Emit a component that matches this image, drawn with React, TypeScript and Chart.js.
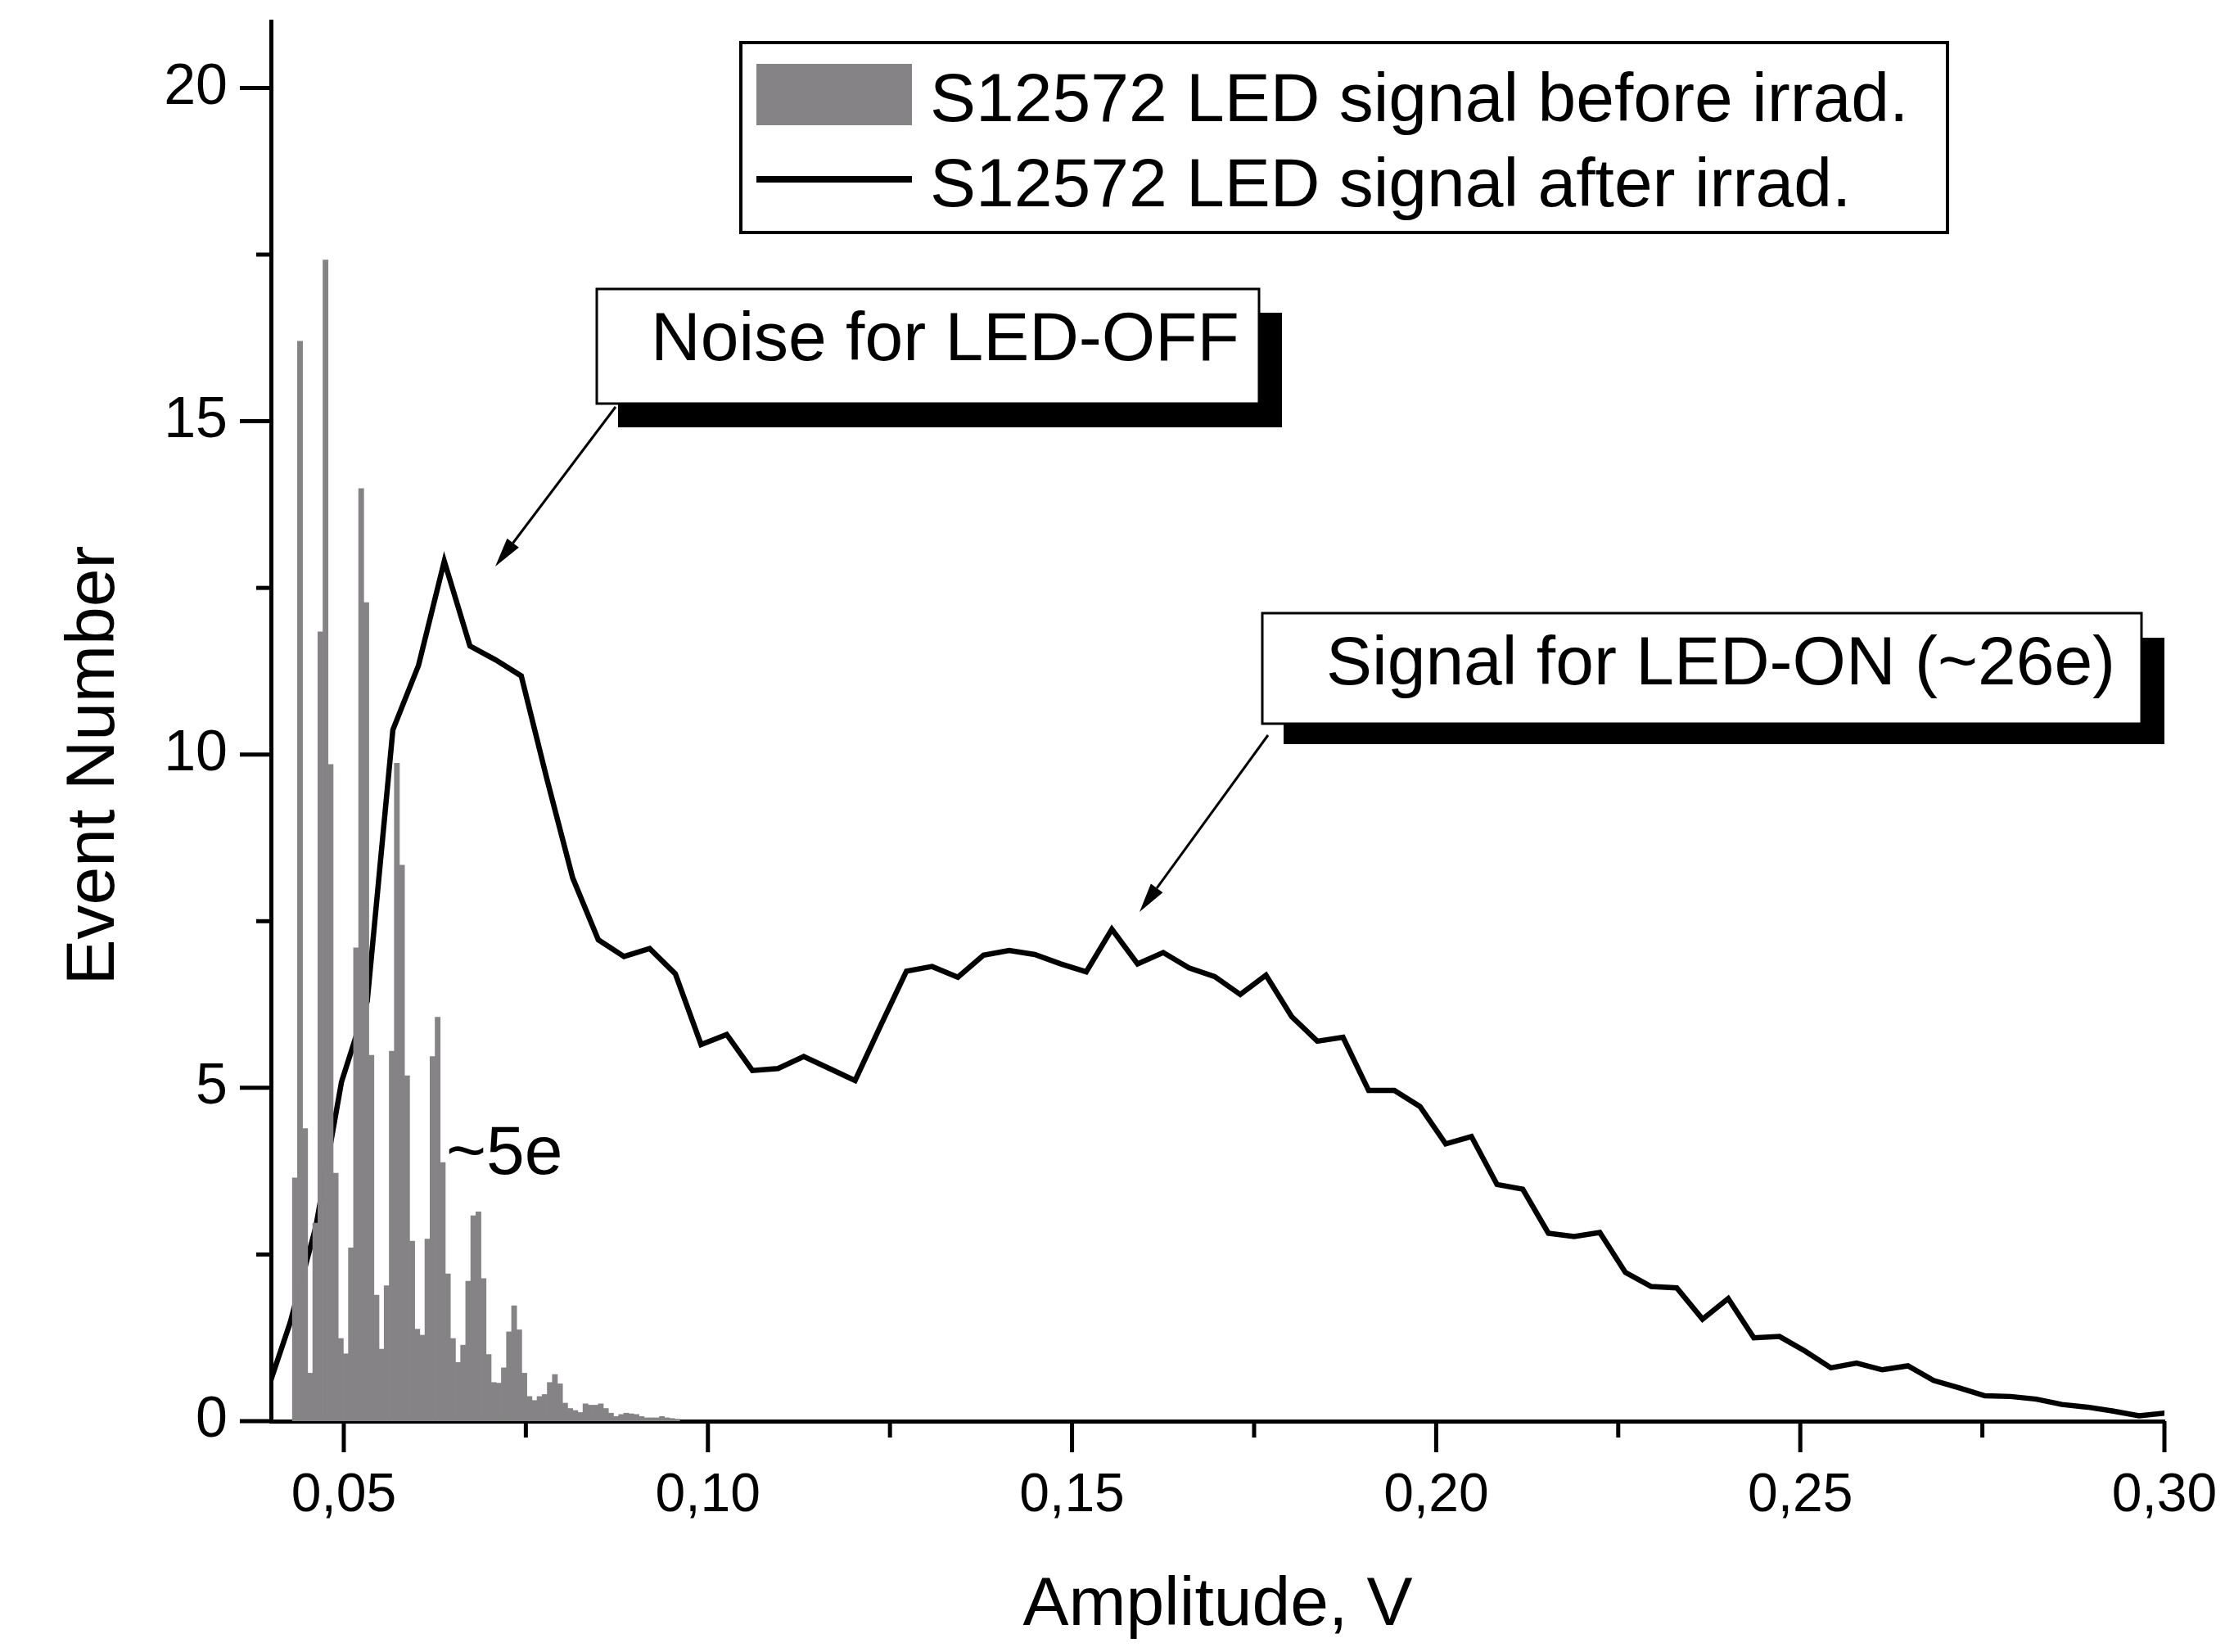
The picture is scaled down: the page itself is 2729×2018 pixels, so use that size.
import React, { useEffect, useRef } from 'react';
import { Chart, registerables } from 'chart.js';

Chart.register(...registerables);

// ---------- data ----------
const histCenters = [
  0.04329, 0.04399, 0.04469, 0.04539, 0.04609, 0.04679, 0.04749, 0.04819, 0.04889, 0.04959,
  0.05029, 0.05099, 0.05169, 0.05239, 0.05309, 0.05379, 0.05449, 0.05519, 0.05589, 0.05659,
  0.05729, 0.05799, 0.05869, 0.05939, 0.06009, 0.06079, 0.06149, 0.06219, 0.06289, 0.06359,
  0.06429, 0.06499, 0.06569, 0.06639, 0.06709, 0.06779, 0.06849, 0.06919, 0.06989, 0.07059,
  0.07129, 0.07199, 0.07269, 0.07339, 0.07409, 0.07479, 0.07549, 0.07619, 0.07689, 0.07759,
  0.07829, 0.07899, 0.07969, 0.08039, 0.08109, 0.08179, 0.08249, 0.08319, 0.08389, 0.08459,
  0.08529, 0.08599, 0.08669, 0.08739, 0.08809, 0.08879, 0.08949, 0.09019, 0.09089, 0.09159,
  0.09229, 0.09299, 0.09369, 0.09439, 0.09509, 0.09579,
];
const histCounts = [
  3.65, 16.2, 4.39, 0.72, 2.97, 11.84, 17.42, 9.85, 3.72, 1.24,
  1.01, 2.6, 7.1, 13.99, 12.28, 5.49, 1.89, 1.08, 2.03, 5.55,
  9.87, 8.34, 5.18, 2.7, 1.38, 1.29, 2.73, 5.47, 6.06, 3.88,
  2.21, 1.24, 0.88, 1.14, 2.1, 3.08, 3.14, 2.14, 1.0, 0.58,
  0.57, 0.8, 1.34, 1.73, 1.37, 0.72, 0.37, 0.31, 0.37, 0.4,
  0.58, 0.7, 0.56, 0.27, 0.19, 0.16, 0.13, 0.26, 0.24, 0.24,
  0.26, 0.19, 0.12, 0.07, 0.1, 0.12, 0.11, 0.1, 0.07, 0.05,
  0.05, 0.05, 0.07, 0.05, 0.04, 0.03,
];

const lineX = [
  0.03911, 0.04264, 0.04617, 0.04969, 0.05322, 0.05674, 0.06027, 0.0638, 0.06732, 0.07085,
  0.07437, 0.0779, 0.08143, 0.08495, 0.08848, 0.092, 0.09553, 0.09906, 0.10258, 0.10611,
  0.10963, 0.11316, 0.11669, 0.12021, 0.12374, 0.12726, 0.13079, 0.13432, 0.13784, 0.14137,
  0.14489, 0.14842, 0.15195, 0.15547, 0.159, 0.16252, 0.16605, 0.16958, 0.1731, 0.17663,
  0.18015, 0.18368, 0.18721, 0.19073, 0.19426, 0.19778, 0.20131, 0.20484, 0.20836, 0.21189,
  0.21541, 0.21894, 0.22247, 0.22599, 0.22952, 0.23304, 0.23657, 0.2401, 0.24362, 0.24715,
  0.25067, 0.2542, 0.25773, 0.26125, 0.26478, 0.2683, 0.27183, 0.27536, 0.27888, 0.28241,
  0.28593, 0.28946, 0.29299, 0.29651, 0.30004,
];
const lineY = [
  0.33, 1.48, 2.92, 5.09, 6.3, 10.37, 11.34, 12.9, 11.63, 11.42,
  11.18, 9.63, 8.15, 7.22, 6.97, 7.09, 6.71, 5.65, 5.8, 5.26,
  5.29, 5.47, 5.29, 5.11, 5.94, 6.75, 6.82, 6.66, 6.99, 7.06,
  7.0, 6.86, 6.74, 7.38, 6.86, 7.03, 6.8, 6.67, 6.4, 6.69,
  6.07, 5.7, 5.76, 4.96, 4.96, 4.72, 4.16, 4.27, 3.55, 3.48,
  2.82, 2.77, 2.83, 2.23, 2.02, 2.0, 1.53, 1.84, 1.25, 1.27,
  1.05, 0.8, 0.87, 0.77, 0.83, 0.61, 0.5, 0.38, 0.37, 0.33,
  0.25, 0.21, 0.15, 0.08, 0.12,
];

const xMajorTicks = [0.05, 0.1, 0.15, 0.2, 0.25, 0.3];
const xMinorTicks = [0.075, 0.125, 0.175, 0.225, 0.275];
const yMajorTicks = [0, 5, 10, 15, 20];
const yMinorTicks = [2.5, 7.5, 12.5, 17.5];

const seriesLabels = ['S12572 LED signal before irrad.', 'S12572 LED signal after irrad.'];
const xTitle = 'Amplitude, V';
const yTitle = 'Event Number';
const noteNoise = 'Noise for LED-OFF';
const noteSignal = 'Signal for LED-ON (~26e)';
const notePeak = '~5e';

// ---------- styles ----------
const W = 2729;
const H = 2018;
const FONT = '"Liberation Sans", Arial, Helvetica, sans-serif';
const BAR_COLOR = 'rgb(133,131,133)';

const zeroPad = (s: any) => {
  s.paddingTop = 0;
  s.paddingBottom = 0;
  s.paddingLeft = 0;
  s.paddingRight = 0;
};

const decorPlugin = {
  id: 'decor',
  afterDraw(chart: any) {
    const ctx: CanvasRenderingContext2D = chart.ctx;
    const xs = chart.scales.x;
    const ys = chart.scales.y;
    const area = chart.chartArea;
    ctx.save();
    ctx.strokeStyle = '#000';
    ctx.fillStyle = '#000';
    ctx.lineCap = 'butt';
    ctx.lineWidth = 5;
    const seg = (x1: number, y1: number, x2: number, y2: number) => {
      ctx.beginPath();
      ctx.moveTo(x1, y1);
      ctx.lineTo(x2, y2);
      ctx.stroke();
    };
    // tick marks (major long, minor short, outward)
    xMajorTicks.forEach((v) => { const p = xs.getPixelForValue(v); seg(p, area.bottom, p, area.bottom + 38); });
    xMinorTicks.forEach((v) => { const p = xs.getPixelForValue(v); seg(p, area.bottom, p, area.bottom + 20); });
    yMajorTicks.forEach((v) => { const p = ys.getPixelForValue(v); seg(area.left, p, area.left - 38, p); });
    yMinorTicks.forEach((v) => { const p = ys.getPixelForValue(v); seg(area.left, p, area.left - 18, p); });

    // axis titles
    ctx.font = `84px ${FONT}`;
    ctx.textAlign = 'center';
    ctx.textBaseline = 'alphabetic';
    ctx.fillText(xTitle, (area.left + area.right) / 2, 1985);
    ctx.save();
    ctx.translate(139, 935);
    ctx.rotate(-Math.PI / 2);
    ctx.fillText(yTitle, 0, 0);
    ctx.restore();

    // legend
    ctx.textAlign = 'left';
    ctx.lineWidth = 4;
    ctx.fillStyle = '#fff';
    ctx.fillRect(905, 52, 2379 - 905, 284 - 52);
    ctx.strokeRect(905, 52, 2379 - 905, 284 - 52);
    ctx.fillStyle = BAR_COLOR;
    ctx.fillRect(924, 78, 1114 - 924, 153 - 78);
    ctx.lineWidth = 8;
    seg(924, 219, 1114, 219);
    ctx.fillStyle = '#000';
    ctx.fillText(chart.data.datasets[0].label, 1136, 148);
    ctx.fillText(chart.data.datasets[1].label, 1136, 252);

    // callout boxes with drop shadow
    const box = (x1: number, y1: number, x2: number, y2: number, sx1: number, sy1: number, sx2: number, sy2: number, text: string, tx: number, ty: number) => {
      ctx.fillStyle = '#000';
      ctx.fillRect(sx1, sy1, sx2 - sx1, sy2 - sy1);
      ctx.fillStyle = '#fff';
      ctx.fillRect(x1, y1, x2 - x1, y2 - y1);
      ctx.lineWidth = 3;
      ctx.strokeRect(x1, y1, x2 - x1, y2 - y1);
      ctx.fillStyle = '#000';
      ctx.fillText(text, tx, ty);
    };
    box(729, 353, 1538, 493, 755, 382, 1566, 522, noteNoise, 795, 440);
    box(1542, 749, 2616, 884, 1568, 779, 2644, 909, noteSignal, 1620, 836);

    // arrows
    const arrow = (x1: number, y1: number, x2: number, y2: number) => {
      ctx.lineWidth = 3;
      const a = Math.atan2(y2 - y1, x2 - x1);
      const L = 36;
      const hw = 9;
      const bx = x2 - L * Math.cos(a);
      const by = y2 - L * Math.sin(a);
      seg(x1, y1, bx, by);
      ctx.beginPath();
      ctx.moveTo(x2, y2);
      ctx.lineTo(bx + hw * Math.sin(a), by - hw * Math.cos(a));
      ctx.lineTo(bx - hw * Math.sin(a), by + hw * Math.cos(a));
      ctx.closePath();
      ctx.fill();
    };
    arrow(752, 497, 605, 692);
    arrow(1549, 898, 1392, 1114);

    // peak label
    ctx.fillText(notePeak, 545, 1434);
    ctx.restore();
  },
};

export default function App() {
  const ref = useRef<HTMLCanvasElement | null>(null);
  useEffect(() => {
    if (!ref.current) return;
    const chart = new Chart(ref.current, {
      type: 'bar',
      data: {
        datasets: [
          {
            type: 'bar',
            label: seriesLabels[0],
            data: histCenters.map((x, i) => ({ x, y: histCounts[i] })),
            backgroundColor: BAR_COLOR,
            borderWidth: 0,
            barPercentage: 1,
            categoryPercentage: 1,
            order: 0,
          } as any,
          {
            type: 'line',
            label: seriesLabels[1],
            data: lineX.map((x, i) => ({ x, y: lineY[i] })),
            borderColor: '#000',
            borderWidth: 6.5,
            pointRadius: 0,
            tension: 0,
            fill: false,
            borderJoinStyle: 'miter',
            order: 1,
          } as any,
        ],
      },
      options: {
        responsive: false,
        animation: false,
        devicePixelRatio: 1,
        layout: { padding: { top: 26, right: 85, left: 0, bottom: 0 } },
        plugins: {
          legend: { display: false },
          tooltip: { enabled: false },
          title: { display: false },
        },
        scales: {
          x: {
            type: 'linear',
            min: 0.04,
            max: 0.3,
            offset: false,
            afterBuildTicks: (s: any) => {
              s.ticks = [...xMajorTicks, ...xMinorTicks].sort((a, b) => a - b).map((v) => ({ value: v }));
            },
            afterFit: (s: any) => { s.height = H - 1736; zeroPad(s); },
            grid: { display: false, drawTicks: false },
            border: { display: true, color: '#000', width: 5 },
            ticks: {
              autoSkip: false,
              maxRotation: 0,
              minRotation: 0,
              padding: 52,
              color: '#000',
              font: { family: FONT, size: 66 },
              callback: (v: any) => (xMajorTicks.includes(v) ? Number(v).toFixed(2).replace('.', ',') : ''),
            },
          },
          y: {
            type: 'linear',
            min: 0,
            max: 21,
            afterBuildTicks: (s: any) => {
              s.ticks = [...yMajorTicks, ...yMinorTicks].sort((a, b) => a - b).map((v) => ({ value: v }));
            },
            afterFit: (s: any) => { s.width = 331; zeroPad(s); },
            grid: { display: false, drawTicks: false },
            border: { display: true, color: '#000', width: 5 },
            ticks: {
              autoSkip: false,
              padding: 53,
              color: '#000',
              font: { family: FONT, size: 70 },
              callback: (v: any) => (yMajorTicks.includes(v) ? String(v) : ''),
            },
          },
        },
      } as any,
      plugins: [decorPlugin],
    });
    return () => chart.destroy();
  }, []);

  return (
    <div style={{ position: 'absolute', left: 0, top: 0, width: W, height: H, background: '#fff' }}>
      <canvas ref={ref} width={W} height={H} style={{ display: 'block', width: W, height: H }} />
    </div>
  );
}
